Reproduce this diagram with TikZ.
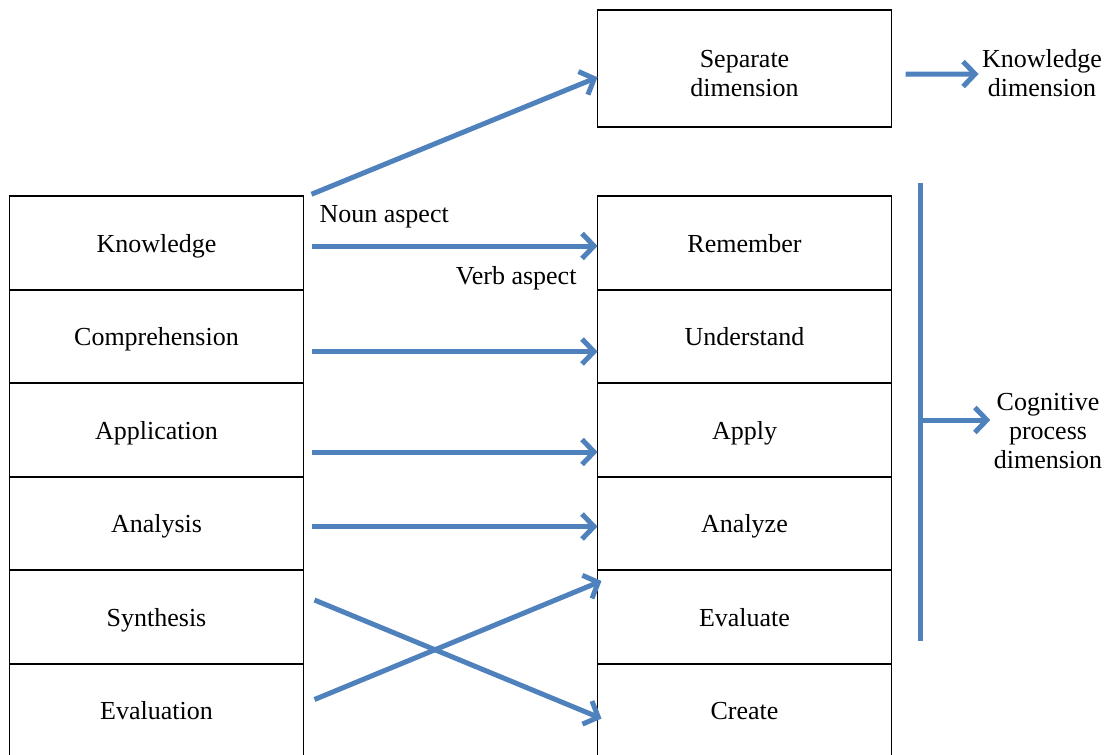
\documentclass[tikz,border=0pt]{standalone}
\usepackage{fontspec}
\setmainfont{Liberation Serif}
\usetikzlibrary{positioning,arrows.meta}
\definecolor{linkblue}{RGB}{79,129,189}

\begin{document}
\begin{tikzpicture}[x=1pt,y=-1pt,
    font=\fontsize{26}{29}\selectfont,
    cell/.style={draw, line width=1.8pt, outer sep=0pt, minimum width=294pt, minimum height=93.5pt, align=center},
    row/.style={cell, text height=22pt, text depth=4pt},
    link/.style={draw=linkblue, line width=5pt, -{Straight Barb[length=12pt,width=25pt]}},
    bar/.style={draw=linkblue, line width=5pt}
  ]
    \useasboundingbox (0,0) rectangle (1109,755);

    % old taxonomy
    \node[row] (know) at (156.5,243) {Knowledge};
    \node[row, below=0pt of know] (comp) {Comprehension};
    \node[row, below=0pt of comp] (appl) {Application};
    \node[row, below=0pt of appl] (anal) {Analysis};
    \node[row, below=0pt of anal] (synth) {Synthesis};
    \node[row, below=0pt of synth] (evaln) {Evaluation};

    % revised taxonomy
    \node[row, right=294pt of know] (remember) {Remember};
    \node[row, below=0pt of remember] (understand) {Understand};
    \node[row, below=0pt of understand] (apply) {Apply};
    \node[row, below=0pt of apply] (analyze) {Analyze};
    \node[row, below=0pt of analyze] (evaluate) {Evaluate};
    \node[row, below=0pt of evaluate] (create) {Create};
    \node[cell, minimum height=117pt, text height=55pt, text depth=0pt, above=69pt of remember] (sep) {Separate\\dimension};

    \node[align=center] (kdim) at (1042,73) {Knowledge\\dimension};
    \node[align=center] (cdim) at (1048,431) {Cognitive\\process\\dimension};

    \node[anchor=west] (noun) at (316,217) {Noun aspect};
    \node[anchor=east] (verb) at (580,278) {Verb aspect};

    \draw[link] ([xshift=8pt,yshift=2pt]know.north east) -- ([yshift=-8.5pt]sep.west);
    \draw[link] ([xshift=8pt,yshift=-3pt]know.east) -- ([yshift=-3pt]remember.west);
    \draw[link] ([xshift=8pt,yshift=-15pt]comp.east) -- ([yshift=-15pt]understand.west);
    \draw[link] ([xshift=8pt,yshift=-22pt]appl.east) -- ([yshift=-22pt]apply.west);
    \draw[link] ([xshift=8pt,yshift=-3pt]anal.east) -- ([yshift=-3pt]analyze.west);
    \draw[link] ([xshift=11pt,yshift=17pt]synth.east) -- ([xshift=4pt,yshift=-8pt]create.west);
    \draw[link] ([xshift=11pt,yshift=11pt]evaln.east) -- ([xshift=4pt,yshift=36pt]evaluate.west);

    \draw[link] ([xshift=14pt,yshift=-5.5pt]sep.east) -- ([yshift=-1pt]kdim.west);

    \coordinate (bartop) at (920,183);
    \coordinate (barbot) at (920,641);
    \coordinate (barmid) at (920,420);
    \draw[bar] (bartop) -- (barbot);
    \draw[link] (barmid) -- (barmid -| cdim.west);
\end{tikzpicture}
\end{document}
